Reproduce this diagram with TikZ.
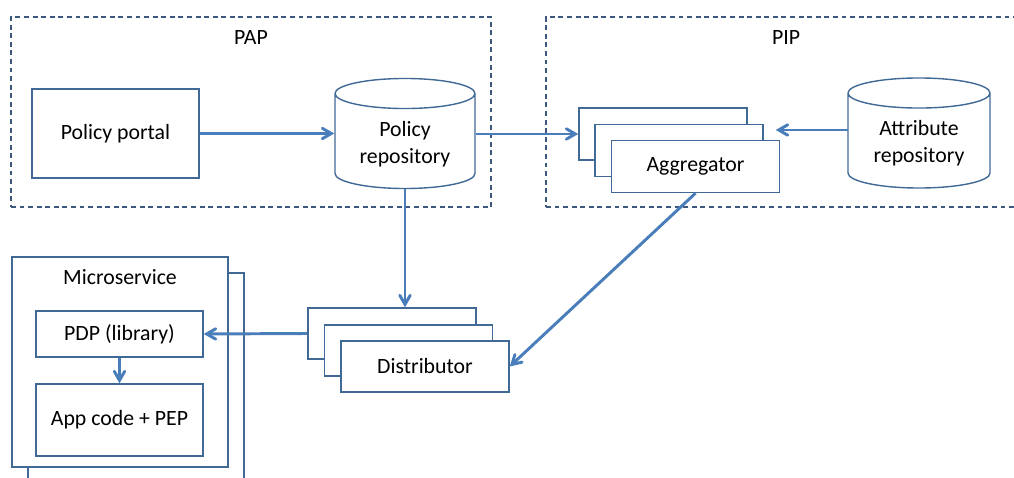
\documentclass[tikz,border=0pt]{standalone}
\usepackage{fontspec}
\setmainfont{Carlito}
\usepackage{tikz}
\usetikzlibrary{shapes.geometric}
\usetikzlibrary{arrows}
\definecolor{linkblue}{RGB}{74,126,187}
\definecolor{boxblue}{RGB}{65,105,150}
\definecolor{areablue}{RGB}{60,88,125}
\tikzset{plainbox/.style={
        draw=boxblue, line width=1pt, fill=white, align=center
    },
    dashedarea/.style={
        draw=areablue, line width=0.9pt, dash pattern=on 3.5pt off 2.6pt
    },
    dbcyl/.style={
        cylinder, shape border rotate=90, aspect=0.3, draw=boxblue,
        line width=1pt, fill=white, align=center, anchor=shape center
    },
    flowarrow/.style={
        ->, >=angle 60, draw=linkblue, line width=2.1pt
    }
}

\begin{document}
\begin{tikzpicture}[x=0.025cm,y=-0.025cm,font=\fontsize{15.5}{19}\selectfont]
           \useasboundingbox (0,0) rectangle (1014,478);
           % PAP area
           \node[dashedarea,minimum width=12cm,minimum height=4.75cm] (pap) at (251,112) {};
           \node (paplabel) at (251,38) {PAP};
           \node[plainbox,minimum width=4.175cm,minimum height=2.225cm] (portal) at (115.5,133.5) {Policy portal};
           \node[dbcyl,minimum width=3.5cm,minimum height=2.75cm] (prepo) at (405,133.5) {Policy\\repository};
           % PIP area
           \node[dashedarea,minimum width=12.1cm,minimum height=4.75cm] (pip) at (788,112) {};
           \node (piplabel) at (786,38) {PIP};
           \node[plainbox,minimum width=4.2cm,minimum height=1.3cm] (aggback) at (663,134) {};
           \node[plainbox,minimum width=4.2cm,minimum height=1.3cm] (aggmid) at (679,150.5) {};
           \node[plainbox,minimum width=4.2cm,minimum height=1.3cm] (aggfront) at (695.5,166.5) {Aggregator};
           \node[dbcyl,minimum width=3.55cm,minimum height=2.75cm] (arepo) at (919,133) {Attribute\\repository};
           \coordinate (attrout) at (848,130);
           % microservice
           \node[plainbox,minimum width=5.4cm,minimum height=5.25cm] (msback) at (136,378) {};
           \node[plainbox,minimum width=5.4cm,minimum height=5.25cm] (msfront) at (120,362) {};
           \node (mslabel) at (120,277) {Microservice};
           \node[plainbox,minimum width=4.175cm,minimum height=1.15cm] (pdp) at (119.5,334) {PDP (library)};
           \node[plainbox,minimum width=4.175cm,minimum height=1.8cm] (app) at (119.5,420) {App code + PEP};
           % distributor
           \node[plainbox,minimum width=4.2cm,minimum height=1.275cm] (distback) at (392,333.5) {};
           \node[plainbox,minimum width=4.2cm,minimum height=1.275cm] (distmid) at (408.5,350.5) {};
           \node[plainbox,minimum width=4.2cm,minimum height=1.275cm] (distfront) at (425,366.5) {Distributor};
           % links
           \draw[flowarrow] (portal.east) -- (portal.east -| prepo.west);
           \draw[flowarrow] (aggback.west -| prepo.east) -- (aggback.west);
           \draw[flowarrow,shorten >=0.3cm] (attrout) -- (attrout -| aggmid.east);
           \draw[flowarrow] (prepo.south) -- (prepo.south |- distback.north);
           \draw[flowarrow] (aggfront.south) -- (distfront.east);
           \draw[flowarrow] (distback.west) -- (pdp.east);
           \draw[flowarrow] (pdp.south) -- (app.north);
\end{tikzpicture}
\end{document}
